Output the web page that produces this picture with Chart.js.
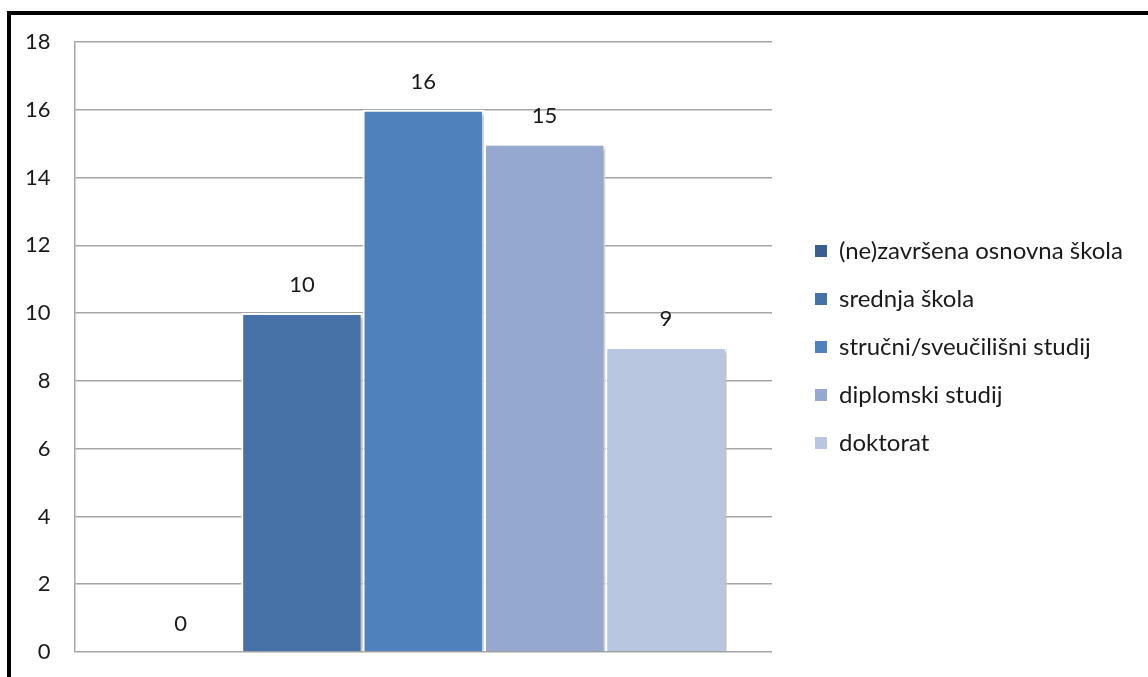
<!DOCTYPE html>
<html>
<head>
<meta charset="utf-8">
<script src="https://cdn.jsdelivr.net/npm/chart.js@4"></script>
<style>
    html, body { margin: 0; padding: 0; background: #fff; }
    #wrap { position: relative; width: 1148px; height: 677px; overflow: hidden; }
    #frame { position: absolute; left: 7px; top: 11px; right: -10px; bottom: -10px;
             border-top: 4px solid #000; border-left: 4px solid #000; pointer-events: none; }
    canvas { position: absolute; left: 0; top: 0; }
</style>
</head>
<body>
<div id="wrap">
    <canvas id="graf" width="1148" height="677"></canvas>
    <div id="frame"></div>
</div>
<script>
    // podaci
    const kategorije = [''];
    const obrazovanje = ['(ne)završena osnovna škola', 'srednja škola', 'stručni/sveučilišni studij', 'diplomski studij', 'doktorat'];
    const broj = [0, 10, 16, 15, 9];
    const boje = ['#3A5E8F', '#4672A8', '#4F81BD', '#95A9D0', '#B9C6E0'];
    const yTicks = [0, 2, 4, 6, 8, 10, 12, 14, 16, 18];

    const fontFam = 'Lato, "DejaVu Sans", sans-serif';

    // vrijednosti iznad stupaca
    const oznake = {
        id: 'oznake',
        afterDatasetsDraw(chart) {
            const ctx = chart.ctx;
            ctx.save();
            ctx.font = '22px ' + fontFam;
            ctx.fillStyle = '#1a1a1a';
            ctx.textAlign = 'center';
            ctx.textBaseline = 'middle';
            chart.data.datasets.forEach((ds, i) => {
                const bar = chart.getDatasetMeta(i).data[0];
                ctx.fillText(ds.data[0], bar.x, bar.y - 28);
            });
            ctx.restore();
        }
    };

    // sjena stupaca
    const sjena = {
        id: 'sjena',
        beforeDatasetsDraw(chart) {
            const ctx = chart.ctx;
            ctx.save();
            ctx.shadowColor = 'rgba(0,0,0,0.25)';
            ctx.shadowOffsetX = 3;
            ctx.shadowOffsetY = 2;
            ctx.shadowBlur = 3;
        },
        afterDatasetsDraw(chart) {
            chart.ctx.restore();
        }
    };

    // fiksna sirina legende
    const sirinaLegende = {
        id: 'sirinaLegende',
        beforeLayout(chart) {
            const lg = chart.legend;
            if (lg && !lg.__fix) {
                const fit = lg.fit.bind(lg);
                lg.fit = function () { fit(); this.width = 357; };
                lg.__fix = true;
            }
        }
    };

    const bezPaddinga = axis => { axis.paddingTop = 0; axis.paddingBottom = 0; };

    new Chart(document.getElementById('graf').getContext('2d'), {
        type: 'bar',
        data: {
            labels: kategorije,
            datasets: obrazovanje.map((naziv, i) => ({
                label: naziv,
                data: [broj[i]],
                backgroundColor: boje[i],
                borderColor: '#ffffff',
                borderWidth: 2,
                barPercentage: 1,
                categoryPercentage: 0.87
            }))
        },
        options: {
            responsive: false,
            animation: false,
            layout: { padding: { left: 1, right: 0, top: 42, bottom: 25 } },
            scales: {
                x: { display: false },
                y: {
                    min: 0,
                    max: 18,
                    afterBuildTicks: axis => { axis.ticks = yTicks.map(v => ({ value: v })); },
                    afterFit: bezPaddinga,
                    ticks: {
                        padding: 24,
                        color: '#1a1a1a',
                        font: { size: 22, family: fontFam }
                    },
                    grid: { color: '#A6A6A6', lineWidth: 1.5, drawTicks: false },
                    border: { display: true, color: '#A6A6A6', width: 1.5 }
                },
                // prazan razmak izmedu grafa i legende
                y2: {
                    position: 'right',
                    min: 0,
                    max: 18,
                    grid: { display: false },
                    ticks: { display: false },
                    border: { display: false },
                    afterFit: axis => { axis.width = 19; bezPaddinga(axis); }
                }
            },
            plugins: {
                tooltip: { enabled: false },
                legend: {
                    position: 'right',
                    labels: {
                        boxWidth: 12,
                        boxHeight: 12,
                        padding: 24,
                        color: '#1a1a1a',
                        font: { size: 24, family: fontFam },
                        generateLabels: chart => Chart.defaults.plugins.legend.labels.generateLabels(chart)
                            .map(l => Object.assign(l, { lineWidth: 0 }))
                    }
                }
            }
        },
        plugins: [sirinaLegende, sjena, oznake]
    });
</script>
</body>
</html>
